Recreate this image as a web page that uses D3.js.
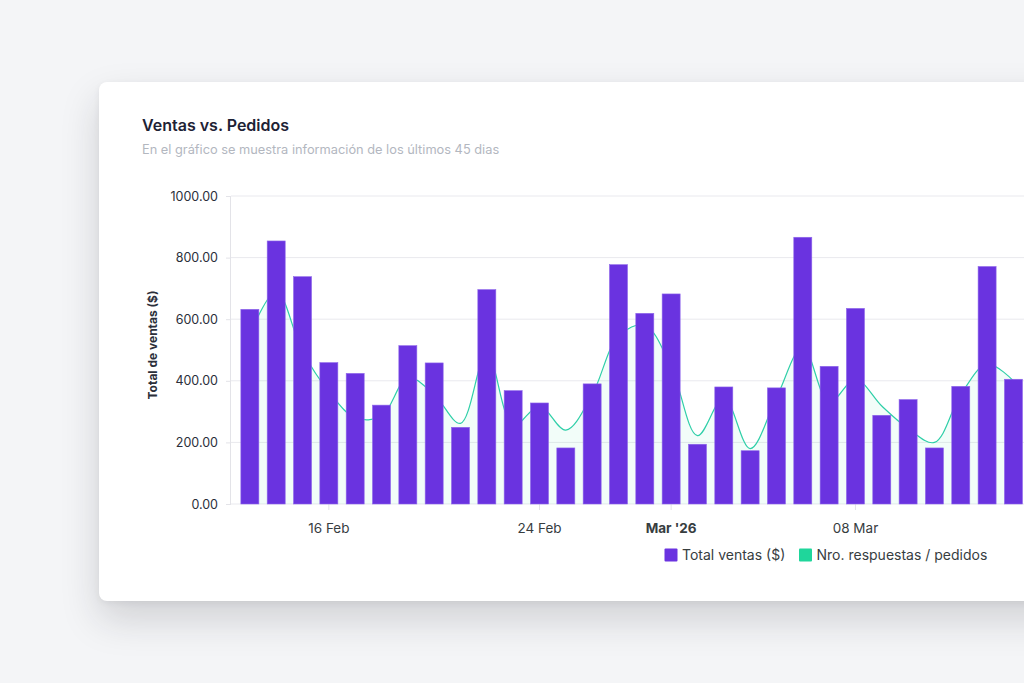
<!DOCTYPE html>
<html>
<head>
<meta charset="utf-8">
<script src="https://cdn.jsdelivr.net/npm/d3@7/dist/d3.min.js"></script>
<style>
  html, body { margin: 0; padding: 0; width: 1024px; height: 683px; overflow: hidden; background: #f4f5f7; font-family: Inter, "Noto Sans", sans-serif; }
  #card { position: absolute; left: 99px; top: 82px; width: 1000px; height: 519px; background: #ffffff; border-radius: 8px;
          box-shadow: 0 18px 38px rgba(30, 30, 40, 0.17), 0 2px 6px rgba(30,30,40,0.06); }
  svg { position: absolute; left: 0; top: 0; }
</style>
</head>
<body>
<div id="card"></div>
<svg id="chart" width="1024" height="683"></svg>
<script>
// ---- data ----
const dates = ["2026-02-13","2026-02-14","2026-02-15","2026-02-16","2026-02-17","2026-02-18","2026-02-19","2026-02-20",
               "2026-02-21","2026-02-22","2026-02-23","2026-02-24","2026-02-25","2026-02-26","2026-02-27","2026-02-28",
               "2026-03-01","2026-03-02","2026-03-03","2026-03-04","2026-03-05","2026-03-06","2026-03-07","2026-03-08",
               "2026-03-09","2026-03-10","2026-03-11","2026-03-12","2026-03-13","2026-03-14"];
const ventas = [632, 854, 738, 459, 424, 321, 514, 458, 249, 696, 368, 328, 182, 390, 777,
                619, 682, 194, 380, 173, 377, 866, 447, 635, 288, 339, 182, 382, 771, 405];
const pedidos = [550, 690, 495, 365, 280, 285, 410, 355, 262, 490, 255, 318, 240, 355, 545,
                 580, 445, 222, 345, 180, 345, 510, 330, 405, 318, 245, 200, 355, 455, 400];
const tickDates = ["2026-02-16", "2026-02-24", "2026-03-01", "2026-03-08"];
const tickLabels = ["16 Feb", "24 Feb", "Mar '26", "08 Mar"];
const yTicks = [0, 200, 400, 600, 800, 1000];
const seriesNames = ["Total ventas ($)", "Nro. respuestas / pedidos"];
const seriesColors = ["#6a33e0", "#1fd69b"];

const svg = d3.select("#chart");

// titles
svg.append("text").attr("x", 142).attr("y", 131).attr("font-size", 16).attr("font-weight", 600)
   .attr("fill", "#1e2235").text("Ventas vs. Pedidos");
svg.append("text").attr("x", 142).attr("y", 154).attr("font-size", 12.8).attr("fill", "#b3b7bf")
   .text("En el gráfico se muestra información de los últimos 45 dias");

// scales
const plotLeft = 231, plotTop = 196, plotBottom = 504;
const x = d3.scaleBand().domain(dates).range([236.7, 236.7 + 26.33 * dates.length]).paddingInner(0.316).paddingOuter(0.158);
const y = d3.scaleLinear().domain([0, 1000]).range([plotBottom, plotTop]);

// grid
const grid = svg.append("g");
grid.selectAll("line").data(yTicks).join("line")
  .attr("x1", plotLeft).attr("x2", 1024)
  .attr("y1", d => y(d)).attr("y2", d => y(d))
  .attr("stroke", "#e9e9ee").attr("stroke-width", 1);

// y axis
const yAxis = svg.append("g").attr("transform", `translate(${plotLeft},0)`)
  .call(d3.axisLeft(y).tickValues(yTicks).tickFormat(d => d3.format(".2f")(d)).tickSize(5).tickPadding(8));
yAxis.select(".domain").attr("stroke", "#e3e3e8").attr("d", `M-0.5,${plotTop}V${plotBottom}`);
yAxis.selectAll(".tick line").attr("stroke", "#e3e3e8");
yAxis.selectAll(".tick text").attr("font-family", "Inter, sans-serif").attr("font-size", 12.5).attr("fill", "#2b2f3a");

svg.append("text").attr("transform", `translate(157,345) rotate(-90)`).attr("text-anchor", "middle")
   .attr("font-size", 12).attr("font-weight", 700).attr("fill", "#2b2f3a").text("Total de ventas ($)");

// x axis
const labelMap = new Map(tickDates.map((d, i) => [d, tickLabels[i]]));
const xAxis = svg.append("g").attr("transform", `translate(0,${plotBottom})`)
  .call(d3.axisBottom(x).tickValues(tickDates).tickFormat(d => labelMap.get(d)).tickSize(6).tickPadding(13));
xAxis.select(".domain").remove();
xAxis.selectAll(".tick line").attr("stroke", "#e3e3e8");
xAxis.selectAll(".tick text").attr("font-family", "Inter, sans-serif").attr("font-size", 13.5).attr("fill", "#373d3f")
  .attr("font-weight", d => d === "2026-03-01" ? 700 : 400);

// area + line (behind bars)
const cx = d => x(d) + x.bandwidth() / 2;
const idx = d3.range(dates.length);
const area = d3.area().x(i => cx(dates[i])).y0(plotBottom).y1(i => y(pedidos[i])).curve(d3.curveCatmullRom.alpha(0.5));
const line = d3.line().x(i => cx(dates[i])).y(i => y(pedidos[i])).curve(d3.curveCatmullRom.alpha(0.5));
svg.append("path").datum(idx).attr("d", area).attr("fill", "#1fd69b").attr("fill-opacity", 0.06);
svg.append("path").datum(idx).attr("d", line).attr("fill", "none").attr("stroke", "#2fcfa8").attr("stroke-width", 1.2);

// bars
svg.append("g").selectAll("rect").data(idx).join("rect")
  .attr("x", i => x(dates[i])).attr("width", x.bandwidth())
  .attr("y", i => y(ventas[i])).attr("height", i => plotBottom - y(ventas[i]))
  .attr("fill", seriesColors[0]).attr("stroke", "#8e66ea").attr("stroke-width", 0.6);

// legend
const leg = svg.append("g");
const legX = [664.5, 799];
seriesNames.forEach((n, i) => {
  leg.append("rect").attr("x", legX[i]).attr("y", 548.5).attr("width", 13).attr("height", 13)
     .attr("fill", seriesColors[i]).attr("rx", 1);
  leg.append("text").attr("x", legX[i] + 17.5).attr("y", 560).attr("font-size", 14).attr("fill", "#373d3f").text(n);
});
</script>
</body>
</html>
